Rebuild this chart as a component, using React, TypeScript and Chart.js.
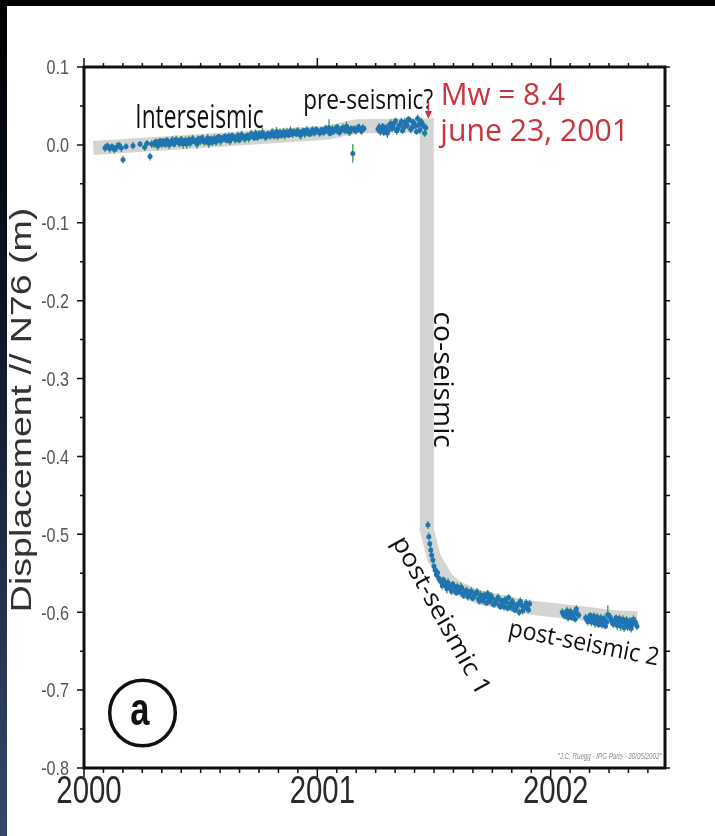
import React, { useEffect, useRef } from 'react';
import { Chart, registerables } from 'chart.js';

Chart.register(...registerables);

// ---------------- data ----------------
const xMin = 2000;
const xMax = 2002.49;
const yMin = -0.8;
const yMax = 0.1;
const quakeTime = 2001.476;

const yearLabels = ['2000', '2001', '2002'];
const yearValues = [2000, 2001, 2002];
const yTickValues = [0.1, 0.0, -0.1, -0.2, -0.3, -0.4, -0.5, -0.6, -0.7, -0.8];
const yTickLabels = ['0.1', '0.0', '-0.1', '-0.2', '-0.3', '-0.4', '-0.5', '-0.6', '-0.7', '-0.8'];

// model trajectory (grey band): [time, displacement]
const modelLine: [number, number][] = [
  [2000.04, -0.004], [2000.5, 0.005], [2001.05, 0.016], [2001.17, 0.024], [2001.469, 0.025],
  [2001.469, -0.494], [2001.50, -0.530], [2001.555, -0.558], [2001.60, -0.569], [2001.696, -0.581],
  [2001.91, -0.594], [2002.124, -0.601], [2002.265, -0.606], [2002.37, -0.608],
];

// GPS daily solutions: [time, displacement, error]
const interseismic: [number, number, number][] = [
  [2000.09, -0.004, 0.005], [2000.10, -0.001, 0.004], [2000.11, -0.005, 0.005], [2000.12, -0.002, 0.004],
  [2000.13, -0.006, 0.005], [2000.14, -0.003, 0.006], [2000.15, 0.000, 0.004], [2000.16, -0.004, 0.005],
  [2000.167, -0.019, 0.005], [2000.18, -0.002, 0.004], [2000.21, -0.001, 0.005], [2000.24, 0.001, 0.004],
  [2000.26, -0.003, 0.005], [2000.27, 0.002, 0.004], [2000.283, -0.015, 0.005], [2000.29, 0.001, 0.005],
  [2000.30, 0.001, 0.005], [2000.31, 0.004, 0.004], [2000.32, 0.000, 0.005], [2000.33, 0.003, 0.006],
  [2000.34, 0.005, 0.004], [2000.35, 0.001, 0.005], [2000.36, 0.004, 0.005], [2000.37, 0.002, 0.004],
  [2000.38, 0.006, 0.005], [2000.39, 0.003, 0.006], [2000.40, 0.005, 0.004], [2000.41, 0.002, 0.005],
  [2000.42, 0.006, 0.005], [2000.43, 0.004, 0.004], [2000.44, 0.001, 0.006], [2000.45, 0.007, 0.005],
  [2000.46, 0.004, 0.004], [2000.47, 0.006, 0.005], [2000.48, 0.003, 0.005], [2000.49, 0.008, 0.004],
  [2000.50, 0.005, 0.005], [2000.51, 0.007, 0.006], [2000.52, 0.004, 0.004], [2000.53, 0.009, 0.005],
  [2000.54, 0.006, 0.005], [2000.55, 0.003, 0.004], [2000.56, 0.008, 0.005], [2000.57, 0.006, 0.006],
  [2000.58, 0.010, 0.004], [2000.59, 0.007, 0.005], [2000.60, 0.009, 0.005], [2000.61, 0.006, 0.004],
  [2000.62, 0.011, 0.005], [2000.63, 0.008, 0.006], [2000.64, 0.010, 0.004], [2000.65, 0.007, 0.005],
  [2000.66, 0.012, 0.005], [2000.67, 0.009, 0.004], [2000.68, 0.011, 0.005], [2000.69, 0.008, 0.006],
  [2000.70, 0.012, 0.004], [2000.71, 0.010, 0.005], [2000.72, 0.013, 0.005], [2000.73, 0.009, 0.004],
  [2000.74, 0.012, 0.006], [2000.75, 0.014, 0.005], [2000.76, 0.011, 0.004], [2000.77, 0.013, 0.005],
  [2000.78, 0.010, 0.005], [2000.79, 0.014, 0.004], [2000.80, 0.012, 0.005], [2000.81, 0.015, 0.006],
  [2000.82, 0.013, 0.004], [2000.83, 0.011, 0.005], [2000.84, 0.016, 0.005], [2000.85, 0.014, 0.004],
  [2000.86, 0.012, 0.005], [2000.87, 0.016, 0.006], [2000.88, 0.013, 0.004], [2000.89, 0.015, 0.005],
  [2000.90, 0.017, 0.005], [2000.91, 0.014, 0.004], [2000.92, 0.016, 0.005], [2000.93, 0.013, 0.006],
  [2000.94, 0.018, 0.004], [2000.95, 0.015, 0.005], [2000.96, 0.017, 0.005], [2000.97, 0.014, 0.004],
  [2000.98, 0.019, 0.005], [2000.99, 0.016, 0.005], [2001.00, 0.018, 0.004],
  [2000.305, 0.003, 0.005], [2000.315, -0.001, 0.006], [2000.325, 0.005, 0.004], [2000.335, 0.001, 0.005],
  [2000.345, 0.002, 0.005], [2000.355, 0.006, 0.004], [2000.365, 0.000, 0.006], [2000.375, 0.005, 0.005],
  [2000.385, 0.001, 0.004], [2000.395, 0.007, 0.005], [2000.405, 0.003, 0.005], [2000.415, 0.007, 0.004],
  [2000.425, 0.001, 0.006], [2000.435, 0.006, 0.005], [2000.445, 0.004, 0.004], [2000.455, 0.002, 0.005],
  [2000.465, 0.008, 0.005], [2000.475, 0.005, 0.004], [2000.485, 0.001, 0.006], [2000.495, 0.006, 0.005],
  [2000.505, 0.009, 0.004], [2000.515, 0.004, 0.005], [2000.525, 0.006, 0.005], [2000.535, 0.002, 0.006],
  [2000.545, 0.008, 0.004], [2000.555, 0.007, 0.005], [2000.565, 0.004, 0.005], [2000.575, 0.010, 0.004],
  [2000.585, 0.005, 0.006], [2000.595, 0.008, 0.005], [2000.605, 0.011, 0.004], [2000.615, 0.007, 0.005],
  [2000.625, 0.005, 0.005], [2000.635, 0.012, 0.004], [2000.645, 0.008, 0.006], [2000.655, 0.010, 0.005],
  [2000.665, 0.006, 0.004], [2000.675, 0.013, 0.005], [2000.685, 0.009, 0.005], [2000.695, 0.011, 0.004],
  [2000.705, 0.009, 0.006], [2000.715, 0.014, 0.005], [2000.725, 0.011, 0.004], [2000.735, 0.015, 0.005],
  [2000.745, 0.010, 0.005], [2000.755, 0.012, 0.004], [2000.765, 0.016, 0.006], [2000.775, 0.011, 0.005],
  [2000.785, 0.014, 0.004], [2000.795, 0.012, 0.005], [2000.805, 0.016, 0.005], [2000.815, 0.011, 0.004],
  [2000.825, 0.017, 0.006], [2000.835, 0.014, 0.005], [2000.845, 0.012, 0.004], [2000.855, 0.017, 0.005],
  [2000.865, 0.015, 0.005], [2000.875, 0.013, 0.004], [2000.885, 0.018, 0.006], [2000.895, 0.014, 0.005],
  [2000.905, 0.015, 0.004], [2000.915, 0.018, 0.005], [2000.925, 0.013, 0.005], [2000.935, 0.017, 0.004],
  [2000.945, 0.015, 0.006], [2000.955, 0.019, 0.005], [2000.965, 0.014, 0.004], [2000.975, 0.018, 0.005],
  [2000.985, 0.016, 0.005], [2000.995, 0.020, 0.004],
];

const preseismic: [number, number, number][] = [
  [2001.01, 0.015, 0.005], [2001.02, 0.019, 0.004], [2001.03, 0.017, 0.005], [2001.04, 0.020, 0.005],
  [2001.05, 0.022, 0.011], [2001.06, 0.016, 0.004], [2001.07, 0.018, 0.005], [2001.08, 0.021, 0.005],
  [2001.09, 0.017, 0.004], [2001.10, 0.019, 0.005], [2001.11, 0.022, 0.005], [2001.12, 0.018, 0.004],
  [2001.13, 0.021, 0.005], [2001.14, 0.017, 0.006], [2001.152, -0.011, 0.012], [2001.16, 0.020, 0.005],
  [2001.17, 0.019, 0.004], [2001.18, 0.022, 0.005], [2001.19, 0.018, 0.005], [2001.20, 0.021, 0.004],
  [2001.015, 0.018, 0.005], [2001.025, 0.016, 0.004], [2001.035, 0.021, 0.005], [2001.045, 0.018, 0.005],
  [2001.055, 0.015, 0.004], [2001.065, 0.020, 0.006], [2001.075, 0.019, 0.005], [2001.085, 0.023, 0.004],
  [2001.095, 0.016, 0.005], [2001.105, 0.020, 0.005], [2001.115, 0.019, 0.004], [2001.125, 0.024, 0.006],
  [2001.135, 0.017, 0.005], [2001.145, 0.021, 0.004], [2001.155, 0.020, 0.005], [2001.165, 0.018, 0.005],
  [2001.175, 0.023, 0.004], [2001.185, 0.019, 0.005], [2001.195, 0.022, 0.005],
  [2001.26, 0.020, 0.005], [2001.27, 0.017, 0.005], [2001.28, 0.024, 0.004], [2001.29, 0.019, 0.005],
  [2001.30, 0.015, 0.006], [2001.31, 0.026, 0.005], [2001.32, 0.021, 0.004], [2001.33, 0.028, 0.005],
  [2001.34, 0.018, 0.005], [2001.35, 0.025, 0.004], [2001.36, 0.030, 0.005], [2001.37, 0.022, 0.006],
  [2001.38, 0.027, 0.005], [2001.39, 0.033, 0.004], [2001.40, 0.020, 0.005], [2001.41, 0.029, 0.005],
  [2001.42, 0.024, 0.004], [2001.43, 0.034, 0.005], [2001.44, 0.019, 0.005], [2001.45, 0.027, 0.004],
  [2001.46, 0.015, 0.005], [2001.465, 0.022, 0.005],
  [2001.265, 0.023, 0.005], [2001.275, 0.021, 0.004], [2001.285, 0.016, 0.005], [2001.295, 0.022, 0.005],
  [2001.305, 0.019, 0.004], [2001.315, 0.027, 0.006], [2001.325, 0.023, 0.005], [2001.335, 0.031, 0.004],
  [2001.345, 0.021, 0.005], [2001.355, 0.026, 0.005], [2001.365, 0.018, 0.004], [2001.375, 0.029, 0.006],
  [2001.385, 0.025, 0.005], [2001.395, 0.032, 0.004], [2001.405, 0.022, 0.005], [2001.415, 0.028, 0.005],
  [2001.425, 0.017, 0.004], [2001.435, 0.026, 0.005], [2001.445, 0.030, 0.005], [2001.455, 0.024, 0.004],
];

const postseismic1: [number, number, number][] = [
  [2001.474, -0.488, 0.005], [2001.478, -0.503, 0.005], [2001.482, -0.512, 0.004], [2001.486, -0.520, 0.005],
  [2001.490, -0.527, 0.005], [2001.495, -0.533, 0.004], [2001.500, -0.541, 0.005], [2001.505, -0.546, 0.005],
  [2001.510, -0.552, 0.004], [2001.52, -0.556, 0.005], [2001.53, -0.561, 0.005], [2001.54, -0.558, 0.004],
  [2001.55, -0.566, 0.005], [2001.56, -0.562, 0.006], [2001.57, -0.569, 0.005], [2001.58, -0.564, 0.004],
  [2001.59, -0.571, 0.005], [2001.60, -0.567, 0.005], [2001.61, -0.574, 0.004], [2001.62, -0.569, 0.005],
  [2001.63, -0.576, 0.006], [2001.64, -0.572, 0.005], [2001.65, -0.578, 0.004], [2001.66, -0.573, 0.005],
  [2001.67, -0.580, 0.005], [2001.68, -0.576, 0.004], [2001.69, -0.583, 0.005], [2001.70, -0.578, 0.006],
  [2001.71, -0.585, 0.005], [2001.72, -0.580, 0.004], [2001.73, -0.576, 0.005], [2001.74, -0.586, 0.005],
  [2001.75, -0.582, 0.004], [2001.76, -0.589, 0.005], [2001.77, -0.584, 0.006], [2001.78, -0.591, 0.005],
  [2001.79, -0.585, 0.004], [2001.80, -0.593, 0.005], [2001.81, -0.587, 0.005], [2001.82, -0.581, 0.004],
  [2001.83, -0.594, 0.005], [2001.84, -0.589, 0.006], [2001.85, -0.596, 0.005], [2001.86, -0.590, 0.004],
  [2001.87, -0.586, 0.005], [2001.88, -0.598, 0.005], [2001.89, -0.592, 0.004], [2001.90, -0.595, 0.005],
  [2001.91, -0.589, 0.005],
  [2001.515, -0.549, 0.005], [2001.525, -0.559, 0.004], [2001.535, -0.566, 0.005], [2001.545, -0.561, 0.005],
  [2001.555, -0.570, 0.006], [2001.565, -0.567, 0.004], [2001.575, -0.573, 0.005], [2001.585, -0.566, 0.005],
  [2001.595, -0.575, 0.004], [2001.605, -0.570, 0.005], [2001.615, -0.568, 0.006], [2001.625, -0.578, 0.005],
  [2001.635, -0.573, 0.004], [2001.645, -0.580, 0.005], [2001.655, -0.575, 0.005], [2001.665, -0.582, 0.004],
  [2001.675, -0.577, 0.006], [2001.685, -0.574, 0.005], [2001.695, -0.586, 0.004], [2001.705, -0.580, 0.005],
  [2001.715, -0.578, 0.005], [2001.725, -0.588, 0.004], [2001.735, -0.583, 0.006], [2001.745, -0.579, 0.005],
  [2001.755, -0.590, 0.004], [2001.765, -0.586, 0.005], [2001.775, -0.581, 0.005], [2001.785, -0.593, 0.004],
  [2001.795, -0.588, 0.006], [2001.805, -0.584, 0.005], [2001.815, -0.595, 0.004], [2001.825, -0.590, 0.005],
  [2001.835, -0.586, 0.005], [2001.845, -0.597, 0.004], [2001.855, -0.592, 0.006], [2001.865, -0.600, 0.005],
  [2001.875, -0.591, 0.004], [2001.885, -0.595, 0.005], [2001.895, -0.588, 0.005], [2001.905, -0.597, 0.004],
];

const postseismic2: [number, number, number][] = [
  [2002.05, -0.600, 0.005], [2002.06, -0.605, 0.004], [2002.07, -0.598, 0.005], [2002.08, -0.603, 0.005],
  [2002.09, -0.607, 0.004], [2002.10, -0.601, 0.005], [2002.11, -0.596, 0.005], [2002.12, -0.604, 0.004],
  [2002.15, -0.607, 0.005], [2002.16, -0.612, 0.005], [2002.17, -0.604, 0.004], [2002.18, -0.609, 0.005],
  [2002.19, -0.614, 0.006], [2002.20, -0.606, 0.005], [2002.21, -0.611, 0.004], [2002.22, -0.616, 0.005],
  [2002.23, -0.608, 0.005], [2002.24, -0.613, 0.004], [2002.245, -0.603, 0.012], [2002.26, -0.610, 0.005],
  [2002.27, -0.615, 0.005], [2002.28, -0.607, 0.004], [2002.29, -0.612, 0.005], [2002.30, -0.618, 0.006],
  [2002.31, -0.609, 0.005], [2002.32, -0.614, 0.004], [2002.33, -0.619, 0.005], [2002.34, -0.611, 0.005],
  [2002.35, -0.616, 0.004], [2002.36, -0.612, 0.005], [2002.37, -0.618, 0.005],
  [2002.055, -0.603, 0.005], [2002.065, -0.601, 0.004], [2002.075, -0.607, 0.005], [2002.085, -0.599, 0.005],
  [2002.095, -0.604, 0.006], [2002.105, -0.609, 0.004], [2002.115, -0.602, 0.005],
  [2002.155, -0.610, 0.005], [2002.165, -0.606, 0.004], [2002.175, -0.613, 0.005], [2002.185, -0.605, 0.005],
  [2002.195, -0.610, 0.006], [2002.205, -0.616, 0.004], [2002.215, -0.607, 0.005], [2002.225, -0.612, 0.005],
  [2002.235, -0.618, 0.004], [2002.255, -0.606, 0.005], [2002.265, -0.614, 0.005], [2002.275, -0.611, 0.004],
  [2002.285, -0.617, 0.006], [2002.295, -0.608, 0.005], [2002.305, -0.613, 0.004], [2002.315, -0.620, 0.005],
  [2002.325, -0.610, 0.005], [2002.335, -0.615, 0.004], [2002.345, -0.621, 0.005], [2002.355, -0.609, 0.005],
  [2002.365, -0.614, 0.004],
];

const segments = [interseismic, preseismic, postseismic1, postseismic2];

const yTitle = 'Displacement // N76 (m)';
const credit = '"J.C. Ruegg - IPG Paris - 30/05/2002"';

// ---------------- drawing helpers ----------------
function inkText(ctx: CanvasRenderingContext2D, text: string, font: string, color: string,
  x0: number, y0: number, x1: number, y1: number) {
  ctx.save();
  ctx.font = font;
  ctx.fillStyle = color;
  ctx.textAlign = 'left';
  ctx.textBaseline = 'alphabetic';
  const m = ctx.measureText(text);
  const w = m.actualBoundingBoxLeft + m.actualBoundingBoxRight;
  const h = m.actualBoundingBoxAscent + m.actualBoundingBoxDescent;
  ctx.translate(x0, y0);
  ctx.scale((x1 - x0) / w, (y1 - y0) / h);
  ctx.fillText(text, m.actualBoundingBoxLeft, m.actualBoundingBoxAscent);
  ctx.restore();
}

function inkTextRot(ctx: CanvasRenderingContext2D, text: string, font: string, color: string,
  cx: number, cy: number, angleDeg: number, len: number, thick: number) {
  ctx.save();
  ctx.font = font;
  ctx.fillStyle = color;
  ctx.textAlign = 'left';
  ctx.textBaseline = 'alphabetic';
  const m = ctx.measureText(text);
  const w = m.actualBoundingBoxLeft + m.actualBoundingBoxRight;
  const h = m.actualBoundingBoxAscent + m.actualBoundingBoxDescent;
  ctx.translate(cx, cy);
  ctx.rotate((angleDeg * Math.PI) / 180);
  ctx.scale(len / w, thick / h);
  ctx.fillText(text, -w / 2 + m.actualBoundingBoxLeft, -h / 2 + m.actualBoundingBoxAscent);
  ctx.restore();
}

const decorPlugin = {
  id: 'decor',
  beforeDraw(chart: any) {
    const ctx: CanvasRenderingContext2D = chart.ctx;
    const W = chart.width, H = chart.height;
    ctx.save();
    ctx.fillStyle = '#ffffff';
    ctx.fillRect(0, 0, W, H);
    const g = ctx.createLinearGradient(0, 0, 0, H);
    g.addColorStop(0, '#000000');
    g.addColorStop(0.35, '#0c1424');
    g.addColorStop(1, '#34476a');
    ctx.fillStyle = g;
    ctx.fillRect(0, 0, 7, H);
    ctx.fillStyle = '#000000';
    ctx.fillRect(0, 0, W, 6);
    ctx.restore();
  },
  beforeDatasetDraw(chart: any, args: any) {
    const seg = segments[args.index];
    if (!seg) return;
    const ctx: CanvasRenderingContext2D = chart.ctx;
    const xs = chart.scales.x, ys = chart.scales.y;
    ctx.save();
    ctx.strokeStyle = '#3a9a48';
    ctx.lineWidth = 1.3;
    ctx.beginPath();
    for (const [t, v, e] of seg) {
      const x = xs.getPixelForValue(t);
      ctx.moveTo(x, ys.getPixelForValue(v + e));
      ctx.lineTo(x, ys.getPixelForValue(v - e));
    }
    ctx.stroke();
    ctx.restore();
  },
  afterDraw(chart: any) {
    const ctx: CanvasRenderingContext2D = chart.ctx;
    const { left, right, top, bottom } = chart.chartArea;
    const xs = chart.scales.x, ys = chart.scales.y;
    ctx.save();
    // frame
    ctx.strokeStyle = '#111111';
    ctx.lineWidth = 3;
    ctx.lineJoin = 'miter';
    ctx.strokeRect(left, top, right - left, bottom - top);
    // ticks
    ctx.lineWidth = 1.5;
    ctx.beginPath();
    for (let k = 0; k <= 29; k++) {
      const t = 2000 + k / 12;
      const x = xs.getPixelForValue(t);
      const isYear = k % 12 === 0;
      ctx.moveTo(x, top);
      ctx.lineTo(x, top - (isYear ? 9 : 4));
      ctx.moveTo(x, bottom);
      ctx.lineTo(x, bottom + (isYear ? 9 : 5));
    }
    for (let j = 0; j <= 18; j++) {
      const v = 0.1 - j * 0.05;
      const y = ys.getPixelForValue(v);
      const major = j % 2 === 0;
      ctx.moveTo(left, y);
      ctx.lineTo(left - (major ? 7 : 4), y);
      ctx.moveTo(right, y);
      ctx.lineTo(right + 5, y);
    }
    ctx.stroke();

    // y tick labels
    ctx.fillStyle = '#555555';
    ctx.font = '17px "Liberation Sans Narrow", "Liberation Sans", Arial, sans-serif';
    ctx.textAlign = 'right';
    ctx.textBaseline = 'alphabetic';
    yTickValues.forEach((v, i) => {
      const y = ys.getPixelForValue(v);
      ctx.save();
      ctx.translate(69, y);
      ctx.scale(0.95, 1.2);
      ctx.fillText(yTickLabels[i], 0, 6.1);
      ctx.restore();
    });

    // x tick labels
    ctx.fillStyle = '#2a2a2a';
    ctx.font = '30px "Liberation Sans", Arial, sans-serif';
    ctx.textAlign = 'center';
    yearValues.forEach((t, i) => {
      const x = xs.getPixelForValue(t) + 5;
      ctx.save();
      ctx.translate(x, 803);
      ctx.scale(0.98, 1.3);
      ctx.fillText(yearLabels[i], 0, 0);
      ctx.restore();
    });

    // y title
    ctx.save();
    ctx.fillStyle = '#333333';
    ctx.font = '30px "Liberation Sans", Arial, sans-serif';
    ctx.textAlign = 'center';
    ctx.translate(23, 410);
    ctx.scale(1, 1.25);
    ctx.rotate(-Math.PI / 2);
    ctx.fillText(yTitle, 0, 7.8);
    ctx.restore();
    ctx.restore();

    // annotations
    const hum = '40px "Open Sans", "Noto Sans", sans-serif';
    inkText(ctx, 'Interseismic', hum, '#111111', 137, 104, 263, 128);
    inkText(ctx, 'pre-seismic?', hum, '#111111', 305, 89, 433, 116);
    inkText(ctx, 'Mw = 8.4', hum, '#c9343c', 443, 82, 565, 105);
    inkText(ctx, 'june 23, 2001', hum, '#c9343c', 438, 119, 623, 149);
    inkTextRot(ctx, 'co-seismic', hum, '#111111', 444, 380, 90, 134, 20);
    inkTextRot(ctx, 'post-seismic 1', hum, '#111111', 439, 615, 61, 170, 24);
    inkTextRot(ctx, 'post-seismic 2', hum, '#111111', 584, 645, 11.3, 150, 24);

    // red arrow at the earthquake time
    const ax = xs.getPixelForValue(quakeTime);
    ctx.save();
    ctx.strokeStyle = '#c9343c';
    ctx.fillStyle = '#c9343c';
    ctx.lineWidth = 1.5;
    ctx.beginPath();
    ctx.moveTo(ax, 101);
    ctx.lineTo(ax, 112);
    ctx.stroke();
    ctx.beginPath();
    ctx.moveTo(ax - 3.5, 111);
    ctx.lineTo(ax + 3.5, 111);
    ctx.lineTo(ax, 119);
    ctx.closePath();
    ctx.fill();
    ctx.restore();

    // circled "a"
    ctx.save();
    ctx.strokeStyle = '#111111';
    ctx.lineWidth = 3.5;
    ctx.beginPath();
    ctx.arc(142.5, 713, 32.8, 0, Math.PI * 2);
    ctx.stroke();
    ctx.restore();
    inkText(ctx, 'a', 'bold 40px "Liberation Sans", Arial, sans-serif', '#111111', 131, 700, 150, 725);

    // credit
    inkText(ctx, credit, 'italic 12px "Liberation Sans", Arial, sans-serif', '#8a8a8a', 558, 752, 662, 761);
  },
};

export default function App() {
  const canvasRef = useRef<HTMLCanvasElement | null>(null);

  useEffect(() => {
    if (!canvasRef.current) return;
    const scatterSets = segments.map((seg) => ({
      data: seg.map(([t, v]) => ({ x: t, y: v })),
      pointRadius: 2.5,
      pointBackgroundColor: '#1f74b3',
      pointBorderWidth: 0,
      showLine: false,
      order: 0,
    }));
    const chart = new Chart(canvasRef.current, {
      type: 'scatter',
      data: {
        datasets: [
          ...scatterSets,
          {
            data: modelLine.map(([t, v]) => ({ x: t, y: v })),
            showLine: true,
            borderColor: '#d4d4d4',
            borderWidth: 14,
            pointRadius: 0,
            tension: 0,
            borderJoinStyle: 'miter',
            borderCapStyle: 'butt',
            order: 10,
          } as any,
        ],
      },
      options: {
        animation: false,
        responsive: false,
        devicePixelRatio: 1,
        events: [],
        layout: { padding: { left: 84, top: 67, right: 50, bottom: 68 } },
        plugins: { legend: { display: false }, tooltip: { enabled: false } },
        scales: {
          x: { type: 'linear', min: xMin, max: xMax, display: false },
          y: { type: 'linear', min: yMin, max: yMax, display: false },
        },
      },
      plugins: [decorPlugin],
    });
    return () => chart.destroy();
  }, []);

  return (
    <div style={{ position: 'absolute', left: 0, top: 0, width: 715, height: 836 }}>
      <canvas ref={canvasRef} width={715} height={836} style={{ display: 'block' }} />
    </div>
  );
}
